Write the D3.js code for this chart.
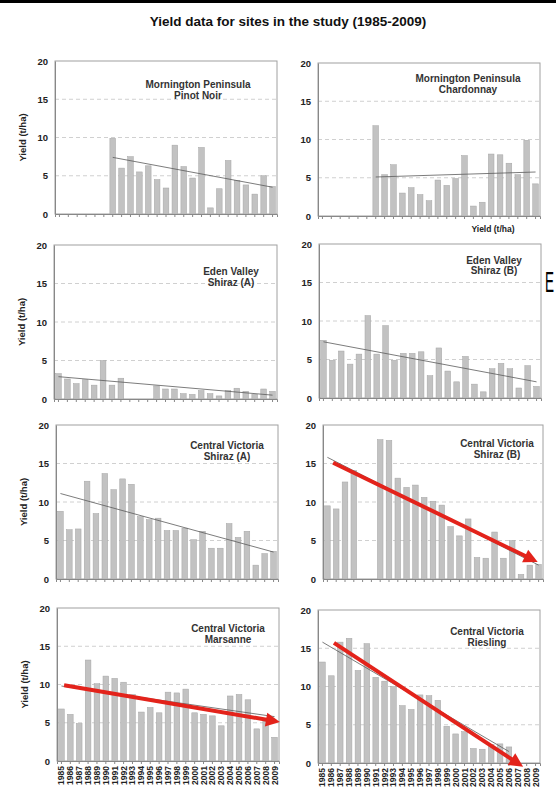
<!DOCTYPE html>
<html><head><meta charset="utf-8">
<script src="https://cdn.jsdelivr.net/npm/d3@7"></script>
<style>
html,body{margin:0;padding:0;background:#fff;}
svg{display:block;font-family:"Liberation Sans",Arial,sans-serif;}
</style></head>
<body><svg id="c" width="556" height="807"></svg>
<script>
// ---------- DATA ----------
const years = [1985,1986,1987,1988,1989,1990,1991,1992,1993,1994,1995,1996,1997,1998,1999,2000,2001,2002,2003,2004,2005,2006,2007,2008,2009];
const yTicks = [0,5,10,15,20];
const chartTitle = "Yield data for sites in the study (1985-2009)";
const yTitle = "Yield (t/ha)";

const pinotNoirMP = [null,null,null,null,null,null,9.9,6.0,7.5,5.5,6.3,4.5,3.4,9.0,6.2,4.7,8.7,0.8,3.3,7.0,4.4,3.8,2.6,5.0,3.6];
const chardonnayMP = [null,null,null,null,null,null,11.8,5.4,6.7,3.0,3.7,2.8,2.0,4.7,4.0,4.9,7.9,1.3,1.8,8.1,8.0,6.9,5.4,9.9,4.2];
const shirazEVA = [3.3,2.6,2.0,2.5,1.8,5.0,1.8,2.7,null,null,null,1.7,1.3,1.3,0.7,0.6,1.1,0.7,0.4,1.1,1.4,1.0,0.6,1.3,1.0];
const shirazEVB = [7.5,4.9,6.1,4.4,5.7,10.7,5.7,9.4,4.9,5.8,5.8,6.0,2.9,6.5,3.5,2.1,5.4,1.8,0.8,3.8,4.5,3.8,1.3,4.2,1.5];
const shirazCVA = [8.8,6.4,6.5,12.7,8.5,13.7,11.6,13.0,12.3,8.1,7.7,7.9,6.3,6.3,6.6,5.1,6.2,4.0,4.0,7.2,5.4,6.2,1.8,3.3,3.6];
const shirazCVB = [9.5,9.1,12.6,14.1,null,null,18.1,18.0,13.1,11.9,12.2,10.6,10.1,9.6,6.8,5.6,7.8,2.8,2.7,6.1,2.7,5.0,0.6,1.8,1.9];
const marsanneCV = [6.8,6.1,4.9,13.2,10.1,11.1,10.8,10.3,8.7,6.4,7.0,6.3,9.0,8.9,9.4,6.3,6.1,5.9,4.6,8.5,8.7,8.0,4.2,5.2,3.1];
const rieslingCV = [13.2,11.4,15.8,16.3,12.1,15.6,11.2,10.7,10.0,7.5,7.0,8.9,8.8,8.2,4.8,3.8,4.1,1.9,1.8,2.4,2.5,2.1,null,null,null];

// trend lines: [year, value] end points
const trendPinotMP = [[1991,7.4],[2009,3.5]];
const trendChardMP = [[1991,5.1],[2009,5.75]];
const trendShirazEVA = [[1985,2.9],[2009,0.5]];
const trendShirazEVB = [[1985,7.3],[2009,2.1]];
const trendShirazCVA = [[1985,11.1],[2009,3.5]];
const trendShirazCVB = [[1985,15.8],[2009,1.8]];
const trendMarsanneCV = [[1985,9.8],[2009,5.8]];
const trendRieslingCV = [[1985,15.8],[2006,1.5]];

// red annotation arrows: [year position, value]
const arrowShirazCVB = [[1985.65,15.1],[2008.9,2.2]];
const arrowMarsanneCV = [[1985.3,9.9],[2009.6,5.1]];
const arrowRieslingCV = [[1986.3,15.7],[2007.6,-0.5]];

const panelTitles = [
  ["Mornington Peninsula","Pinot Noir"],
  ["Mornington Peninsula","Chardonnay"],
  ["Eden Valley","Shiraz (A)"],
  ["Eden Valley","Shiraz (B)"],
  ["Central Victoria","Shiraz (A)"],
  ["Central Victoria","Shiraz (B)"],
  ["Central Victoria","Marsanne"],
  ["Central Victoria","Riesling"]
];

// ---------- LAYOUT ----------
const panels = [
  {vals:pinotNoirMP, trend:trendPinotMP, arrow:null, box:[55,277,61,214], tx:198, ty:[84,95], ytitle:true, xlabels:false},
  {vals:chardonnayMP, trend:trendChardMP, arrow:null, box:[318,540,63,216], tx:468, ty:[78,89], ytitle:false, xlabels:false},
  {vals:shirazEVA, trend:trendShirazEVA, arrow:null, box:[54,277,245,399], tx:231, ty:[271,282], ytitle:true, xlabels:false},
  {vals:shirazEVB, trend:trendShirazEVB, arrow:null, box:[319,541,244,398], tx:494, ty:[260,270], ytitle:false, xlabels:false},
  {vals:shirazCVA, trend:trendShirazCVA, arrow:null, box:[56,278,425,579], tx:227, ty:[445,456], ytitle:true, xlabels:false},
  {vals:shirazCVB, trend:trendShirazCVB, arrow:arrowShirazCVB, box:[323,543,425,579], tx:497, ty:[443,454], ytitle:false, xlabels:false},
  {vals:marsanneCV, trend:trendMarsanneCV, arrow:arrowMarsanneCV, box:[57,279,608,761], tx:228, ty:[628,639], ytitle:true, xlabels:true},
  {vals:rieslingCV, trend:trendRieslingCV, arrow:arrowRieslingCV, box:[318,540,610,763], tx:487, ty:[631,642], ytitle:false, xlabels:true}
];

const FONT = "Liberation Sans, Arial, sans-serif";
const svg = d3.select("#c");
svg.append("rect").attr("x",0).attr("y",0).attr("width",556).attr("height",3).attr("fill","#000");

svg.append("text").attr("x",288).attr("y",26).attr("text-anchor","middle")
  .attr("font-size",13.5).attr("font-weight","bold").attr("fill","#111").text(chartTitle);

// extra labels present in the picture
svg.append("text").attr("x",493).attr("y",232).attr("text-anchor","middle")
  .attr("font-size",8.5).attr("font-weight","bold").attr("fill","#222").text(yTitle);
svg.append("g").attr("transform","translate(545,292) scale(0.45,1)")
  .append("text").attr("x",0).attr("y",0).attr("font-size",30).attr("fill","#000").text("E");

panels.forEach((p,i)=>{
  const [x0,x1,y0,y1] = p.box;
  const g = svg.append("g");
  const y = d3.scaleLinear().domain([0,20]).range([y1,y0]);
  const xb = d3.scaleBand().domain(years).range([x0,x1]).paddingInner(0.36).paddingOuter(0.18);
  const xl = d3.scaleLinear().domain([1984.5,2009.5]).range([x0,x1]);

  // frame
  g.append("rect").attr("x",x0).attr("y",y0).attr("width",x1-x0).attr("height",y1-y0)
    .attr("fill","none").attr("stroke","#a0a0a0").attr("stroke-width",1);
  // grid
  g.selectAll("line.grid").data(yTicks.filter(t=>t>0&&t<20)).join("line")
    .attr("x1",x0).attr("x2",x1).attr("y1",d=>y(d)).attr("y2",d=>y(d))
    .attr("stroke","#d0d0d0").attr("stroke-dasharray","4,3").attr("stroke-width",1);

  // bars
  const data = years.map((yr,k)=>({yr, v:p.vals[k]})).filter(d=>d.v!==null);
  g.selectAll("rect.bar").data(data).join("rect")
    .attr("x",d=>xb(d.yr)).attr("width",xb.bandwidth())
    .attr("y",d=>y(d.v)).attr("height",d=>y(0)-y(d.v))
    .attr("fill","#c2c2c2").attr("stroke","#a5a5a5").attr("stroke-width",0.5);

  // y axis
  const ya = d3.axisLeft(y).tickValues(yTicks).tickSize(0).tickPadding(7);
  const yg = g.append("g").attr("transform",`translate(${x0},0)`).call(ya);
  yg.select(".domain").attr("stroke","#888");
  yg.selectAll("text").attr("font-size",9.5).attr("font-weight","bold").attr("fill","#222")
    .attr("font-family",FONT);

  // x axis
  const xa = d3.axisBottom(xb).tickSize(3).tickFormat(p.xlabels? d=>d : "");
  const xg = g.append("g").attr("transform",`translate(0,${y1})`).call(xa);
  xg.select(".domain").attr("stroke","#888");
  xg.selectAll(".tick line").attr("stroke","#888");
  if(p.xlabels){
    xg.selectAll("text").attr("font-size",8.5).attr("font-weight","bold").attr("fill","#222")
      .attr("font-family",FONT)
      .attr("transform","rotate(-90)").attr("text-anchor","end")
      .attr("x",-5).attr("y",0).attr("dy","0.35em");
  }

  // y title
  if(p.ytitle){
    g.append("text").attr("transform",`translate(${x0-29},${(y0+y1)/2}) rotate(-90)`)
      .attr("text-anchor","middle").attr("font-size",9.5).attr("font-weight","bold").attr("fill","#222").text(yTitle);
  }

  // trend line
  g.append("line").attr("x1",xl(p.trend[0][0])).attr("y1",y(p.trend[0][1]))
    .attr("x2",xl(p.trend[1][0])).attr("y2",y(p.trend[1][1]))
    .attr("stroke","#5a5a5a").attr("stroke-width",0.8);

  // panel title
  panelTitles[i].forEach((t,k)=>{
    g.append("text").attr("x",p.tx).attr("y",p.ty[k]).attr("dy","0.35em").attr("text-anchor","middle")
      .attr("font-size",10).attr("font-weight","bold").attr("fill","#333").text(t);
  });

  // arrow
  if(p.arrow){
    const ax0 = xl(p.arrow[0][0]), ay0 = y(p.arrow[0][1]);
    const ax1 = xl(p.arrow[1][0]), ay1 = y(p.arrow[1][1]);
    const ang = Math.atan2(ay1-ay0, ax1-ax0);
    const hl = 14, hw = 7;
    const bx = ax1 - hl*Math.cos(ang), by = ay1 - hl*Math.sin(ang);
    g.append("line").attr("x1",ax0).attr("y1",ay0).attr("x2",bx+2*Math.cos(ang)).attr("y2",by+2*Math.sin(ang))
      .attr("stroke","#e3231b").attr("stroke-width",4);
    const pts = [[ax1,ay1],[bx - hw*Math.sin(ang), by + hw*Math.cos(ang)],[bx + hw*Math.sin(ang), by - hw*Math.cos(ang)]];
    g.append("polygon").attr("points",pts.map(q=>q.join(",")).join(" ")).attr("fill","#e3231b");
  }
});
</script></body></html>
